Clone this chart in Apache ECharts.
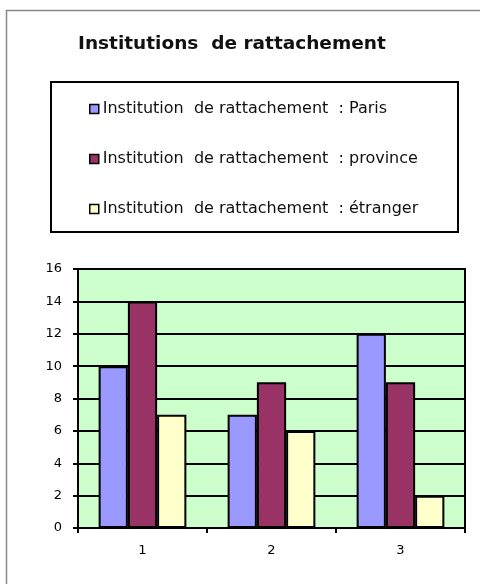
<!DOCTYPE html>
<html>
<head>
<meta charset="utf-8">
<script src="https://cdn.jsdelivr.net/npm/echarts@6/dist/echarts.min.js"></script>
<style>
  html, body { margin: 0; padding: 0; background: #fff; }
  #main { width: 480px; height: 584px; }
</style>
</head>
<body>
<div id="main"></div>
<script>
var categories = ['1', '2', '3'];
var seriesNames = [
  'Institution  de rattachement  : Paris',
  'Institution  de rattachement  : province',
  'Institution  de rattachement  : étranger'
];
var paris = [10, 7, 12];
var province = [14, 9, 9];
var etranger = [7, 6, 2];
var colors = ['#9999FF', '#993366', '#FFFFCC'];

var font = 'DejaVu Sans';
var values = [paris, province, etranger];

var series = values.map(function (v, i) {
  return {
    name: seriesNames[i],
    type: 'bar',
    data: v,
    barGap: 0,
    barCategoryGap: '32%',
    itemStyle: { color: colors[i], borderColor: '#000', borderWidth: 2 }
  };
});

var myChart = echarts.init(document.getElementById('main'));
myChart.setOption({
  animation: false,
  backgroundColor: '#fff',
  textStyle: { fontFamily: font },
  title: {
    text: 'Institutions  de rattachement',
    left: 73,
    top: 30,
    textStyle: { fontFamily: font, fontSize: 18.5, fontWeight: 'bold', color: '#111' }
  },
  graphic: [
    {
      type: 'rect',
      shape: { x: 6.5, y: 10.5, width: 500, height: 600 },
      style: { fill: null, stroke: '#888', lineWidth: 1.5 },
      z: -10
    },
    {
      type: 'rect',
      shape: { x: 51, y: 82, width: 407, height: 150 },
      style: { fill: null, stroke: '#000', lineWidth: 2 }
    }
  ],
  legend: {
    orient: 'vertical',
    left: 84,
    top: 96,
    icon: 'rect',
    itemWidth: 9,
    itemHeight: 9,
    itemGap: 34,
    itemStyle: { borderColor: '#000', borderWidth: 1.5 },
    textStyle: { fontFamily: font, fontSize: 16, lineHeight: 16, color: '#111', padding: [0, 0, 0, -1] },
    data: seriesNames
  },
  grid: {
    left: 78,
    right: 15,
    top: 269,
    bottom: 56,
    show: true,
    backgroundColor: '#CCFFCC',
    borderColor: '#000',
    borderWidth: 2
  },
  xAxis: {
    type: 'category',
    data: categories,
    axisLine: { lineStyle: { color: '#000', width: 2 } },
    axisTick: { show: true, length: 5, lineStyle: { color: '#000', width: 2 } },
    axisLabel: { color: '#000', fontSize: 13, fontFamily: font, margin: 16 }
  },
  yAxis: {
    type: 'value',
    min: 0,
    max: 16,
    interval: 2,
    axisLine: { show: true, lineStyle: { color: '#000', width: 2 } },
    axisTick: { show: true, length: 5, lineStyle: { color: '#000', width: 2 } },
    axisLabel: { color: '#000', fontSize: 13, fontFamily: font, margin: 16 },
    splitLine: { show: true, lineStyle: { color: '#000', width: 2 } }
  },
  series: series
});
</script>
</body>
</html>
